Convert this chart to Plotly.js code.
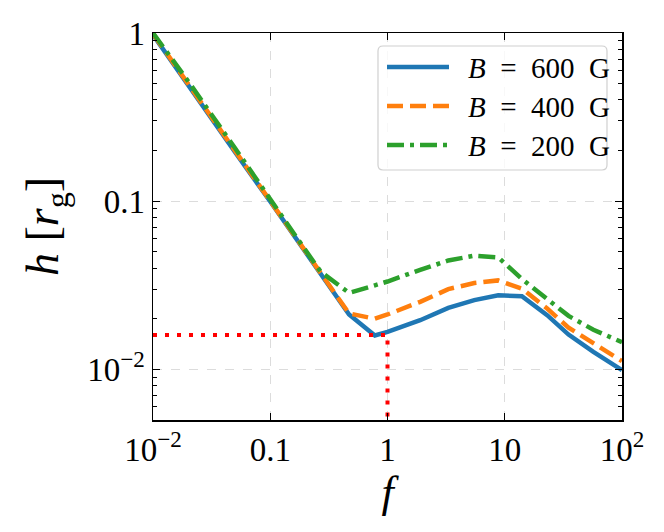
<!DOCTYPE html>
<html>
<head>
<meta charset="utf-8">
<script src="https://cdn.plot.ly/plotly-3.0.1.min.js"></script>
<style>html,body{margin:0;padding:0;background:#fff;}#chart{width:664px;height:532px;}</style>
</head>
<body>
<div id="chart"></div>
<script>
// ---- data ----
const f = [0.01, 0.02, 0.05, 0.1, 0.2, 0.27, 0.47, 0.78, 1, 1.9, 3.3, 5.5, 8.8, 14, 23, 35, 57, 100];
const h600 = [0.975, 0.485, 0.196, 0.0995, 0.0498, 0.0369, 0.0212, 0.0159, 0.0167, 0.0196, 0.0232, 0.0258, 0.0276, 0.0272, 0.0210, 0.0161, 0.0127, 0.0099];
const h400 = [0.99, 0.495, 0.199, 0.1005, 0.0505, 0.0373, 0.0215, 0.0200, 0.0212, 0.0252, 0.0300, 0.0326, 0.0338, 0.0302, 0.0230, 0.0177, 0.0143, 0.0112];
const h200 = [1.0, 0.515, 0.207, 0.1015, 0.0510, 0.0380, 0.0285, 0.0316, 0.0333, 0.0390, 0.0444, 0.0474, 0.0463, 0.0345, 0.0262, 0.0208, 0.0172, 0.0145];
const markerX = [0.01, 1, 1];
const markerY = [0.016, 0.016, 0.005];
const seriesNames = ["<i>B</i> = 600 G", "<i>B</i> = 400 G", "<i>B</i> = 200 G"];
const xTickVals = [0.01, 0.1, 1, 10, 100];
const xTickText = ["10<sup>\u22122</sup>", "0.1", "1", "10", "10<sup>2</sup>"];
const yTickVals = [0.01, 0.1, 1];
const yTickText = ["10<sup>\u22122</sup>", "0.1", "1"];

const colors = ["#1f77b4", "#ff7f0e", "#2ca02c"];
const dashes = ["solid", "16px,7px", "17px,6px,4px,6px"];
const series = [h600, h400, h200];

const yMinor = [];
for (let k = -3; k <= -1; k++) {
  for (let d = 2; d <= 9; d++) {
    const v = d * Math.pow(10, k);
    if (v >= 0.005 && v < 1) yMinor.push(v);
  }
}

const FONT = "Liberation Serif, DejaVu Serif, serif";

const traces = series.map((s, i) => ({
  x: f, y: s, type: "scatter", mode: "lines", name: seriesNames[i],
  line: {color: colors[i], width: 4.5, dash: dashes[i]}, showlegend: false
}));
traces.push({
  x: markerX, y: markerY, type: "scatter", mode: "lines",
  line: {color: "#ff0000", width: 4, dash: "4px,8px"}, showlegend: false
});

// custom legend (paper coordinates)
const px = v => (v - 153) / 469;
const py = v => (420 - v) / 387;
const bx0 = px(378), bx1 = px(607), by0 = py(170), by1 = py(46);
const rx = 5 / 469, ry = 5 / 387;
const shapes = [{
  type: "path", xref: "paper", yref: "paper",
  path: `M ${bx0 + rx},${by0} L ${bx1 - rx},${by0} Q ${bx1},${by0} ${bx1},${by0 + ry} L ${bx1},${by1 - ry} Q ${bx1},${by1} ${bx1 - rx},${by1} L ${bx0 + rx},${by1} Q ${bx0},${by1} ${bx0},${by1 - ry} L ${bx0},${by0 + ry} Q ${bx0},${by0} ${bx0 + rx},${by0} Z`,
  line: {color: "#d0d0d0", width: 1.2}, fillcolor: "rgba(255,255,255,0.8)", layer: "above"
}];
const rowsY = [67, 106, 145];
const annotations = [];
rowsY.forEach((ry_, i) => {
  shapes.push({
    type: "line", xref: "paper", yref: "paper",
    x0: px(387), x1: px(449), y0: py(ry_), y1: py(ry_),
    line: {color: colors[i], width: 4.5, dash: dashes[i]}, layer: "above"
  });
  annotations.push({
    xref: "paper", yref: "paper", x: px(466), y: py(ry_ + 1),
    xanchor: "left", yanchor: "middle", showarrow: false,
    text: seriesNames[i].replace(" = ", "&nbsp;&nbsp;=&nbsp;&nbsp;").replace(" G", "&nbsp;&nbsp;G"),
    font: {family: FONT, size: 29, color: "#000"}
  });
});

const layout = {
  width: 664, height: 532,
  margin: {l: 153, r: 42, t: 33, b: 112, pad: 0},
  paper_bgcolor: "#fff", plot_bgcolor: "#fff",
  font: {family: FONT, color: "#000"},
  showlegend: false,
  xaxis: {
    type: "log", range: [-2, 2],
    tickmode: "array", tickvals: xTickVals, ticktext: xTickText,
    ticks: "inside", ticklen: 7, tickwidth: 1.3, tickcolor: "#000",
    showline: true, linecolor: "#000", linewidth: 1.5, mirror: "allticks",
    showgrid: true, gridcolor: "#dcdcdc", gridwidth: 1, griddash: "dash",
    zeroline: false,
    tickfont: {family: FONT, size: 33, color: "#000"},
    title: {text: "<i>f</i>", font: {family: FONT, size: 44, color: "#000"}, standoff: 4}
  },
  yaxis: {
    type: "log", range: [Math.log10(0.005), 0],
    tickmode: "array", tickvals: yTickVals, ticktext: yTickText,
    ticks: "inside", ticklen: 7, tickwidth: 1.3, tickcolor: "#000",
    minor: {tickmode: "array", tickvals: yMinor, ticks: "inside", ticklen: 4, tickwidth: 1, tickcolor: "#000", showgrid: false},
    showline: true, linecolor: "#000", linewidth: 1.5, mirror: "allticks",
    showgrid: true, gridcolor: "#dcdcdc", gridwidth: 1, griddash: "dash",
    zeroline: false,
    tickfont: {family: FONT, size: 33, color: "#000"},
    title: {text: "<i>h</i> [<i>r</i><sub>g</sub>]", font: {family: FONT, size: 46, color: "#000"}, standoff: 14}
  },
  shapes: shapes,
  annotations: annotations
};

Plotly.newPlot("chart", traces, layout, {staticPlot: true, displayModeBar: false});
</script>
</body>
</html>
